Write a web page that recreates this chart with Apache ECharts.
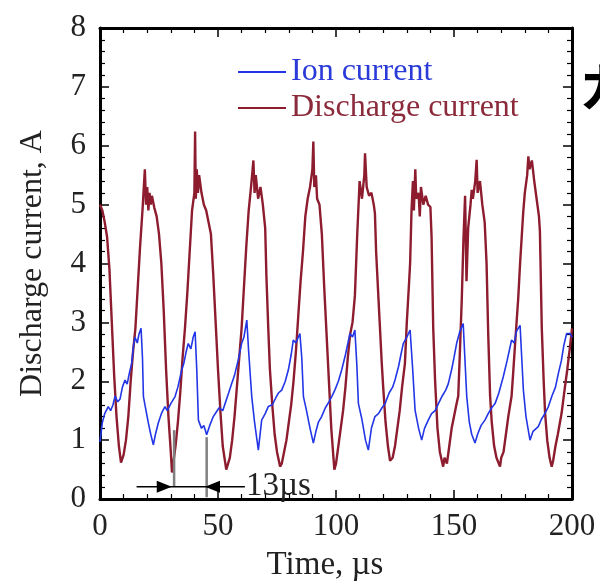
<!DOCTYPE html>
<html>
<head>
<meta charset="utf-8">
<script src="https://cdn.jsdelivr.net/npm/echarts@6/dist/echarts.min.js"></script>
<style>html,body{margin:0;padding:0;background:#fff}#c{width:600px;height:583px}</style>
</head>
<body>
<div id="c"></div>
<script>
// ---- data (time in µs, current in A) ----
var seriesNames = ['Ion current', 'Discharge current'];
var xTicks = [0, 50, 100, 150, 200];
var yTicks = [0, 1, 2, 3, 4, 5, 6, 7, 8];

var dischargeCurrent = [
[0,5.0],[1,4.9],[2,4.7],[3,4.45],[4,3.9],[5,3.0],[6,2.1],[7,1.4],[8,0.9],[8.9,0.62],[10,0.75],[11,1.0],[12,1.4],[13,2.0],[14,2.5],[15,2.9],[16,3.6],[17,4.3],[18,4.9],[19,5.6],[19.5,5.0],[20,5.3],[20.5,4.9],[21,5.2],[21.5,5.0],[22,5.15],[23,4.95],[24,4.8],[25,4.5],[26,4.0],[27,3.2],[28,2.2],[29,1.4],[30,0.8],[30.5,0.45],[31,0.6],[32,0.9],[33,1.3],[34,1.8],[35,2.4],[36,2.9],[37,3.5],[38,4.2],[39,4.9],[40,5.2],[40.3,6.24],[40.6,5.1],[41,5.6],[41.5,5.2],[42,5.5],[43,5.2],[44,5.0],[45,4.9],[46,4.7],[47,4.5],[48,3.8],[49,3.0],[50,2.2],[51,1.5],[52,0.9],[53.5,0.5],[55,0.7],[56,1.0],[57,1.4],[58,1.9],[59,2.4],[60,2.9],[61,3.6],[62,4.3],[63,4.9],[64,5.3],[65,5.75],[65.5,5.2],[66,5.5],[67,5.1],[68,5.3],[69,5.0],[70,4.6],[70.5,3.8],[71.3,2.9],[72,2.2],[73,1.6],[74,1.1],[75,0.8],[76.3,0.55],[77,0.6],[78,0.8],[79,1.0],[80,1.3],[81,1.6],[82,2.0],[83,2.5],[84,3.1],[85,3.7],[86,4.2],[87,4.8],[88,5.1],[89,5.3],[90,5.6],[90.4,6.07],[90.8,5.3],[91.5,5.5],[92,5.1],[93,5.0],[94,4.5],[95,3.6],[96,2.8],[97,2.0],[98,1.2],[99.3,0.5],[100,0.6],[101,0.9],[102,1.2],[103,1.5],[104,1.9],[105,2.4],[106,2.8],[107,3.0],[108,3.45],[109,4.5],[110,5.4],[111,5.1],[112,5.5],[112.3,5.87],[113,5.3],[114,5.15],[115,5.2],[116,5.0],[116.5,4.85],[117,4.2],[118,3.4],[119.4,2.3],[120,1.9],[121,1.3],[122,0.9],[122.9,0.65],[124,0.7],[125,0.9],[126,1.2],[127,1.5],[128,1.9],[129.2,2.3],[130,3.0],[131,3.7],[131.4,4.0],[132,4.9],[132.6,5.4],[133,4.9],[133.6,5.6],[134,5.1],[135,5.2],[135.5,4.8],[136,5.3],[137,5.0],[138,5.15],[139,5.0],[140,4.96],[140.5,4.45],[141.2,2.9],[142,2.0],[143,1.2],[144,0.8],[145.4,0.55],[146,0.7],[147,0.6],[148,0.9],[149,1.2],[150,1.4],[151,1.6],[151.8,1.75],[152.5,2.5],[153.3,3.4],[154,4.4],[154.7,5.15],[155.3,3.7],[156,4.6],[157,5.0],[157.5,5.25],[158,5.1],[159,5.4],[159.6,5.76],[160,5.2],[161,5.4],[162,5.0],[163,4.7],[163.8,4.0],[164.5,2.8],[165.3,1.75],[166,1.3],[167,0.9],[168,0.7],[169.5,0.55],[170,0.7],[171,0.8],[172,1.1],[173,1.4],[174.4,1.75],[175,2.1],[176,2.7],[177.2,3.4],[178,4.0],[179.3,4.85],[180,5.2],[181,5.5],[181.5,5.82],[182,5.6],[183,5.75],[184,5.4],[185,5.1],[186,4.8],[186.4,4.55],[187.2,2.9],[188,2.0],[188.6,1.46],[189.5,1.0],[190.5,0.7],[191.4,0.55],[192,0.65],[193,0.9],[194,1.1],[195.6,1.46],[197,1.9],[198,2.2],[199.2,2.6],[200,2.9]
];

var ionCurrent = [
[0,0.97],[1,1.3],[2,1.45],[3.5,1.57],[4.5,1.5],[5.5,1.6],[6.4,1.75],[7.5,1.65],[8.5,1.7],[9.5,1.9],[10.6,2.02],[11.5,1.95],[12.5,2.15],[13.4,2.3],[14.2,2.6],[14.8,2.75],[15.8,2.65],[16.5,2.8],[17.4,2.9],[18,2.4],[18.4,1.74],[19.5,1.5],[20.5,1.29],[21.5,1.1],[22.6,0.92],[23.5,1.1],[24.7,1.29],[26,1.45],[27.5,1.57],[28.5,1.5],[30,1.62],[31.8,1.74],[33,1.9],[34.6,2.19],[35.5,2.3],[36.5,2.5],[37.4,2.64],[38.5,2.55],[39.5,2.75],[40.3,2.84],[41,2.2],[41.7,1.34],[43,1.2],[44,1.25],[45.2,1.09],[46.5,1.25],[48,1.4],[49,1.46],[50.5,1.55],[52,1.5],[53,1.62],[54.5,1.8],[55.8,1.96],[57,2.1],[58.5,2.35],[60,2.64],[61,2.75],[62.2,3.04],[63,2.5],[64.3,1.74],[65.5,1.3],[67.1,0.83],[68.5,1.34],[70,1.45],[71.3,1.57],[73,1.6],[74.5,1.72],[75.6,1.8],[77,1.85],[78.5,2.0],[79.8,2.19],[81,2.45],[81.9,2.7],[83,2.65],[84.7,2.81],[85.5,2.4],[86.2,1.74],[87.5,1.5],[89,1.2],[90.4,0.95],[91.5,1.15],[92.5,1.3],[93.9,1.4],[95.5,1.55],[97,1.65],[98.2,1.74],[99.5,1.85],[101,2.0],[102.4,2.19],[104,2.45],[105.9,2.81],[107,2.75],[108,2.87],[108.8,2.3],[109.5,1.62],[111,1.35],[112.5,1.0],[113.7,0.83],[115,1.2],[116.5,1.4],[118,1.45],[119.5,1.55],[120.8,1.62],[122.5,1.8],[124,1.9],[125,2.02],[126.5,2.25],[127.5,2.45],[128.5,2.64],[130,2.75],[131.4,2.87],[132.5,2.2],[133.5,1.51],[135,1.2],[136.3,1.0],[137.5,1.2],[139.1,1.34],[140.5,1.45],[142,1.5],[143.4,1.62],[145,1.75],[146.5,1.85],[147.6,1.96],[149,2.2],[150,2.4],[151.1,2.64],[152.5,2.85],[153.9,2.98],[154.6,2.4],[155.4,1.74],[156.5,1.3],[157.5,1.1],[158.9,0.95],[160,1.1],[161.5,1.25],[163.1,1.34],[164.5,1.45],[166,1.55],[167.4,1.62],[169,1.8],[170.9,2.08],[172.5,2.35],[174.4,2.7],[175.5,2.65],[176.5,2.85],[178,2.95],[178.7,2.4],[179.4,1.85],[180.5,1.4],[182.2,1.0],[183.5,1.15],[185.7,1.23],[187,1.35],[188.5,1.45],[190,1.57],[191.5,1.75],[193,1.9],[194.2,2.13],[195.5,2.35],[196.5,2.6],[197.7,2.81],[199.2,2.81],[200,2.75]
];

// annotation (period marker) in data units
var markerTimes = [31.4, 45.2];
var markerTops = [1.17, 1.05];
var arrowSpan = [15.5, 61.4];
var arrowLevel = 0.21;
var periodLabel = '13µs';

// ---- chart ----
var FONT = '"Liberation Serif", "Times New Roman", serif';
var BLUE = '#2236e6', RED = '#8c1c2e';
var chart = echarts.init(document.getElementById('c'), null, {renderer: 'canvas'});

function baseAxis(extra) {
  var a = {
    axisLine: {show: true, onZero: false, lineStyle: {color: '#000', width: 3}},
    axisTick: {show: true, inside: true, length: 9, lineStyle: {color: '#000', width: 1.5}},
    minorTick: {show: true, splitNumber: 5, length: 5, lineStyle: {color: '#000', width: 1.2}},
    splitLine: {show: false},
    axisLabel: {show: false}
  };
  for (var k in extra) a[k] = extra[k];
  return a;
}

var option = {
  animation: false,
  backgroundColor: '#fff',
  grid: {left: 100, right: 28, top: 28, bottom: 84, containLabel: false, outerBoundsMode: 'none'},
  legend: {
    orient: 'vertical', left: 233, top: 51, itemWidth: 48, itemHeight: 2, itemGap: 4,
    icon: 'rect',
    textStyle: {fontFamily: FONT, fontSize: 32, lineHeight: 32},
    data: [
      {name: seriesNames[0], textStyle: {color: '#2a3ad8'}},
      {name: seriesNames[1], textStyle: {color: '#8b2a3a'}}
    ]
  },
  xAxis: [
    baseAxis({type: 'value', position: 'bottom', min: xTicks[0], max: xTicks[xTicks.length - 1], interval: 50,
      name: 'Time, µs', nameLocation: 'middle', nameGap: 50,
      nameTextStyle: {fontFamily: FONT, fontSize: 33, color: '#222', padding: [0, 22, 0, 0]},
      axisLabel: {show: true, fontFamily: FONT, fontSize: 31, color: '#222', margin: 12}}),
    baseAxis({type: 'value', position: 'top', min: xTicks[0], max: xTicks[xTicks.length - 1], interval: 50})
  ],
  yAxis: [
    baseAxis({type: 'value', position: 'left', min: yTicks[0], max: yTicks[yTicks.length - 1], interval: 1,
      name: 'Discharge current, A', nameLocation: 'middle', nameGap: 51,
      nameTextStyle: {fontFamily: FONT, fontSize: 32, color: '#222'},
      axisLabel: {show: true, fontFamily: FONT, fontSize: 31, color: '#222', margin: 14}}),
    baseAxis({type: 'value', position: 'right', min: yTicks[0], max: yTicks[yTicks.length - 1], interval: 1})
  ],
  series: [
    {name: seriesNames[0], type: 'line', data: ionCurrent, showSymbol: false, symbol: 'none',
      lineStyle: {color: BLUE, width: 1.6}, itemStyle: {color: BLUE}, z: 3},
    {name: seriesNames[1], type: 'line', data: dischargeCurrent, showSymbol: false, symbol: 'none',
      lineStyle: {color: RED, width: 2.4}, itemStyle: {color: RED}, z: 2}
  ]
};
chart.setOption(option);

// annotation graphics placed through the chart's own scales
var P = function (t, v) { return chart.convertToPixel({xAxisIndex: 0, yAxisIndex: 0}, [t, v]); };
var g = [];
for (var i = 0; i < markerTimes.length; i++) {
  var a = P(markerTimes[i], markerTops[i]);
  var b = P(markerTimes[i], i === 0 ? arrowLevel : 0.03);
  g.push({type: 'line', shape: {x1: a[0], y1: a[1], x2: b[0], y2: b[1]}, style: {stroke: '#808080', lineWidth: 2.5}, z: 10});
}
var l0 = P(arrowSpan[0], arrowLevel), l1 = P(arrowSpan[1], arrowLevel);
g.push({type: 'line', shape: {x1: l0[0], y1: l0[1], x2: l1[0], y2: l1[1]}, style: {stroke: '#000', lineWidth: 1.5}, z: 11});
var tip1 = P(markerTimes[0] - 1.0, arrowLevel), tip2 = P(markerTimes[1] - 0.7, arrowLevel);
g.push({type: 'polygon', shape: {points: [[tip1[0], tip1[1]], [tip1[0] - 15, tip1[1] - 6], [tip1[0] - 15, tip1[1] + 6]]}, style: {fill: '#000'}, z: 12});
g.push({type: 'polygon', shape: {points: [[tip2[0], tip2[1]], [tip2[0] + 15, tip2[1] - 6], [tip2[0] + 15, tip2[1] + 6]]}, style: {fill: '#000'}, z: 12});
g.push({type: 'text', x: l1[0] + 1, y: l1[1], style: {text: periodLabel, font: '33px ' + FONT, fill: '#222', verticalAlign: 'middle'}, z: 12});
// cropped glyph at right edge of the reference image
g.push({type: 'text', x: 579, y: 61, style: {text: 'カ', font: 'bold 52px "Noto Sans CJK JP"', fill: '#000', verticalAlign: 'top'}, z: 12});
chart.setOption({graphic: g});
</script>
</body>
</html>
